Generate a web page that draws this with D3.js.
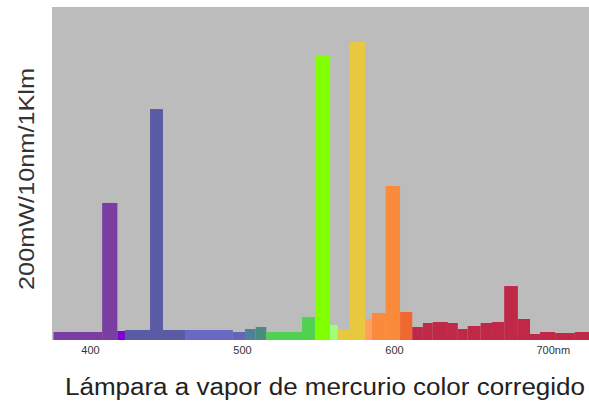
<!DOCTYPE html>
<html>
<head>
<meta charset="utf-8">
<script src="https://cdn.jsdelivr.net/npm/d3@7.9.0/dist/d3.min.js"></script>
<style>
  html, body { margin: 0; padding: 0; background: #fff; }
  svg { display: block; font-family: "Liberation Sans", Arial, sans-serif; }
</style>
</head>
<body>
<svg id="chart" width="589" height="404"></svg>
<script>
// spectral bins: wavelength start / end (nm), power (mW per 10nm per 1000 lm), colour
const binStart = [376, 408, 418, 423, 439.5, 448, 462.5, 494, 502, 509, 516, 539.5, 548, 558, 563, 571,
                  581, 585.5, 594.5, 604, 612, 619, 625.5, 635.5, 642, 648.5, 657, 664.5, 672.5, 681.5,
                  689.5, 696, 706, 719];
const binEnd   = [408, 418, 423, 439.5, 448, 462.5, 494, 502, 509, 516, 539.5, 548, 558, 563, 571, 581,
                  585.5, 594.5, 604, 612, 619, 625.5, 635.5, 642, 648.5, 657, 664.5, 672.5, 681.5, 689.5,
                  696, 706, 719, 728.3];
const power    = [4.8, 82.3, 5.4, 6.0, 138.7, 6.0, 6.0, 4.8, 6.6, 7.8, 4.8, 13.8, 171.2, 9.0, 6.0, 179.0,
                  12.6, 16.2, 92.5, 16.8, 7.8, 10.2, 10.8, 10.2, 6.6, 8.4, 10.2, 10.8, 32.4, 12.6,
                  3.6, 4.8, 4.2, 4.8];
const binColor = ["#7a3ea0", "#7a3ea0", "#7f00d0", "#5a5aa5", "#5a5aa5", "#5a5aa5", "#6969c3", "#6464b8",
                  "#4f8296", "#4a8c82", "#50d250", "#50d250", "#80ff00", "#a0ff78", "#e8c840", "#e8c840",
                  "#ffa060", "#fa8a3c", "#fa8a3c", "#f06830", "#c02848", "#c02848", "#c02848", "#c02848",
                  "#c02848", "#c02848", "#c02848", "#c02848", "#c02848", "#c02848", "#c02848", "#c02848",
                  "#c02848", "#c02848"];
const tickValues = [400, 500, 600, 700];
const yLabel = "200mW/10nm/1Klm";
const title = "Lámpara a vapor de mercurio color corregido";

const bins = binStart.map((s, i) => ({ start: s, end: binEnd[i], value: power[i], color: binColor[i] }));

const svg = d3.select("#chart");
const svgWidth  = +svg.attr("width");
const svgHeight = +svg.attr("height");
const margin = { top: 7, right: 0, bottom: 64, left: 52 };
const width  = svgWidth  - margin.left - margin.right;
const height = svgHeight - margin.top  - margin.bottom;

const g = svg.append("g")
    .attr("transform", `translate(${margin.left},${margin.top})`);

const xScale = d3.scaleLinear().domain([375, 728.3]).range([0, width]);
const yScale = d3.scaleLinear().domain([0, 200]).range([height, 0]);

// grey plot background
g.append("rect")
    .attr("width", width)
    .attr("height", height)
    .attr("fill", "#bcbcbc");

// bars
g.selectAll(".bin")
    .data(bins)
    .enter()
    .append("rect")
    .attr("class", "bin")
    .attr("x", d => xScale(d.start))
    .attr("width", d => xScale(d.end) - xScale(d.start))
    .attr("y", d => yScale(d.value))
    .attr("height", d => yScale(0) - yScale(d.value))
    .attr("fill", d => d.color);

// x labels only, no ticks or domain line
const xAxis = g.append("g")
    .attr("transform", `translate(0,${height})`)
    .call(d3.axisBottom(xScale)
        .tickValues(tickValues)
        .tickSize(0)
        .tickPadding(6)
        .tickFormat(d => d === 700 ? "700nm" : d));
xAxis.select(".domain").remove();
xAxis.selectAll("text")
    .attr("fill", "#333")
    .style("font-size", "11px");
xAxis.selectAll(".tick")
    .filter(d => d === 700)
    .select("text")
    .attr("text-anchor", "start")
    .attr("dx", "-10");

// y label, stretched to the length it has in the picture
svg.append("text")
    .attr("transform", `translate(34,${(68 + 290) / 2}) rotate(-90)`)
    .attr("text-anchor", "middle")
    .attr("fill", "#333")
    .attr("textLength", 222)
    .attr("lengthAdjust", "spacingAndGlyphs")
    .style("font-size", "22px")
    .text(yLabel);

// caption
svg.append("text")
    .attr("x", 325)
    .attr("y", 395)
    .attr("text-anchor", "middle")
    .attr("fill", "#222")
    .attr("textLength", 520)
    .attr("lengthAdjust", "spacingAndGlyphs")
    .style("font-size", "23px")
    .text(title);
</script>
</body>
</html>
